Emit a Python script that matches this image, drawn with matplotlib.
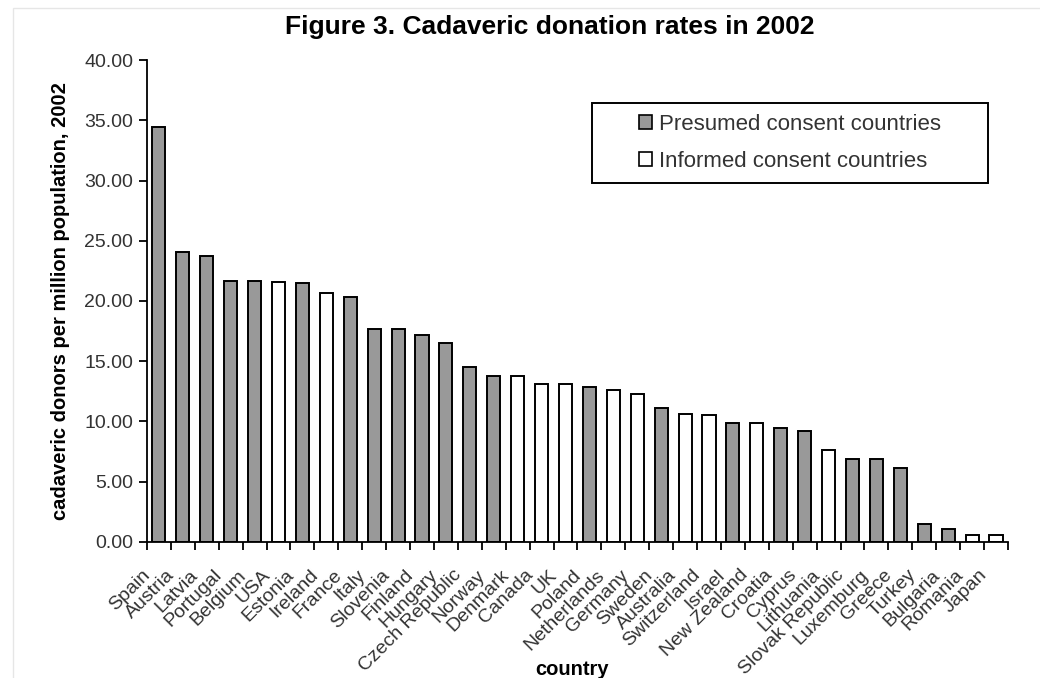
import matplotlib.pyplot as plt
from matplotlib.patches import Patch, Rectangle

plt.rcParams['font.family'] = ['Liberation Sans', 'DejaVu Sans']

countries = ["Spain", "Austria", "Latvia", "Portugal", "Belgium", "USA", "Estonia",
             "Ireland", "France", "Italy", "Slovenia", "Finland", "Hungary",
             "Czech Republic", "Norway", "Denmark", "Canada", "UK", "Poland",
             "Netherlands", "Germany", "Sweden", "Australia", "Switzerland", "Israel",
             "New Zealand", "Croatia", "Cyprus", "Lithuania", "Slovak Republic",
             "Luxemburg", "Greece", "Turkey", "Bulgaria", "Romania", "Japan"]
rates = [34.4, 24.1, 23.7, 21.7, 21.7, 21.6, 21.5, 20.7, 20.3, 17.7, 17.7, 17.2,
         16.5, 14.5, 13.75, 13.75, 13.1, 13.1, 12.85, 12.6, 12.3, 11.1, 10.65,
         10.5, 9.9, 9.9, 9.5, 9.2, 7.6, 6.9, 6.9, 6.15, 1.5, 1.05, 0.6, 0.6]
# P = presumed consent, I = informed consent
consent = ["P", "P", "P", "P", "P", "I", "P", "I", "P", "P", "P", "P", "P",
           "P", "P", "I", "I", "I", "P", "I", "I", "P", "I", "I", "P",
           "I", "P", "P", "I", "P", "P", "P", "P", "P", "I", "I"]
legend_labels = ["Presumed consent countries", "Informed consent countries"]

gray = "#999999"
txt = "#333333"
colors = [gray if c == "P" else "white" for c in consent]

fig = plt.figure(figsize=(10.4, 6.78), dpi=100)
# faint scan border
fig.patches.append(Rectangle((0.0125, -0.1), 1.2, 1.088, transform=fig.transFigure,
                             fill=False, edgecolor="#e6e6e6", linewidth=1))
ax = fig.add_axes([0.1413, 0.2006, 0.8279, 0.7109])

x = range(len(countries))
ax.bar(x, rates, width=0.55, color=colors, edgecolor="black", linewidth=1.4)

ax.set_xlim(-0.5, len(countries) - 0.5)
ax.set_ylim(0, 40)
ax.set_yticks(range(0, 41, 5))
ax.set_yticklabels([f"{v:.2f}" for v in range(0, 41, 5)], fontsize=14, color=txt)

# ticks sit between categories
ax.set_xticks([i - 0.5 for i in range(len(countries) + 1)])
ax.set_xticklabels([])
ax.tick_params(axis="x", length=6, width=1.3)
ax.tick_params(axis="y", length=6, width=1.3, pad=4)

# category labels under the bars, rotated like the Excel original
for i, name in enumerate(countries):
    ax.annotate(name, xy=(i, 0), xycoords=("data", "axes fraction"),
                xytext=(-8, -22), textcoords="offset points",
                rotation=45, ha="right", va="center", rotation_mode="anchor",
                fontsize=14, color=txt)

ax.spines["top"].set_visible(False)
ax.spines["right"].set_visible(False)
ax.spines["left"].set_linewidth(1.3)
ax.spines["bottom"].set_linewidth(1.3)

ax.set_ylabel("cadaveric donors per million population, 2002",
              fontsize=14.5, fontweight="bold", labelpad=10)
fig.text(0.55, 0.027, "country", fontsize=14.5, fontweight="bold",
         ha="center", va="top")
fig.text(0.529, 0.96, "Figure 3. Cadaveric donation rates in 2002", fontsize=19,
         fontweight="bold", ha="center", va="center")

# legend box drawn separately so the entries can sit centred inside it
bx0, by0, bx1, by1 = 0.517, 0.745, 0.977, 0.911
ax.add_patch(Rectangle((bx0, by0), bx1 - bx0, by1 - by0, transform=ax.transAxes,
                       fill=True, facecolor="white", edgecolor="black",
                       linewidth=1.4, zorder=3))
handles = [Patch(facecolor=gray, edgecolor="black", linewidth=1.2),
           Patch(facecolor="white", edgecolor="black", linewidth=1.2)]
leg = ax.legend(handles, legend_labels, loc="center",
                bbox_to_anchor=((bx0 + bx1) / 2, (by0 + by1) / 2), fontsize=16,
                frameon=False, handlelength=0.6, handleheight=0.6,
                handletextpad=0.3, labelspacing=0.75, borderpad=0,
                labelcolor=txt)
leg.set_zorder(4)

fig.savefig("out.png", dpi=100)
